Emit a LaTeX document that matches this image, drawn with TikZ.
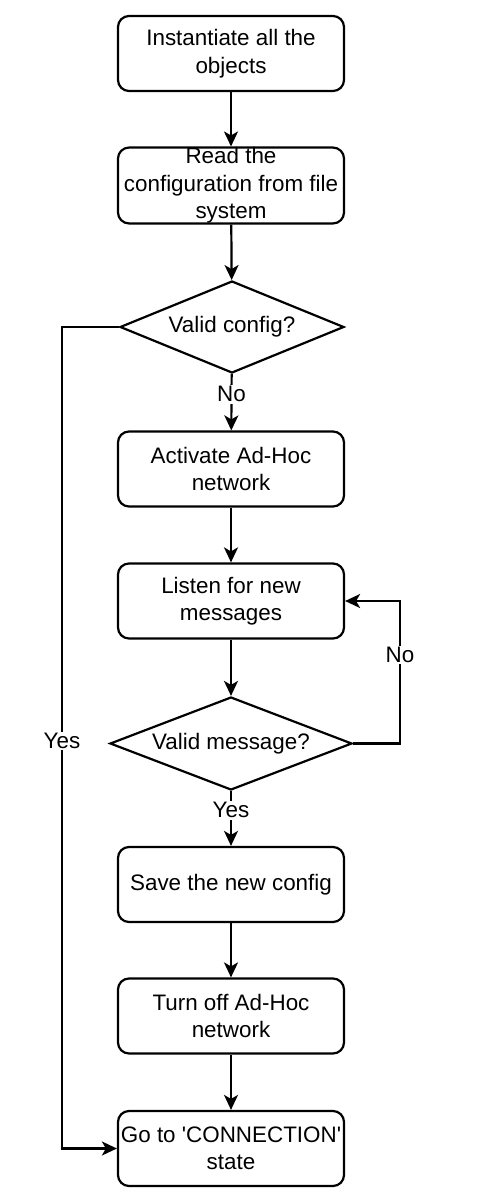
\documentclass[tikz,border=0pt]{standalone}
\usepackage{fontspec}
\setmainfont{Liberation Sans}
\usetikzlibrary{shapes.geometric,arrows.meta}
\begin{document}
\begin{tikzpicture}[x=1pt,y=-1pt,
  line width=2.2pt,
  every node/.style={font=\fontsize{22.4}{27.5}\selectfont, align=center},
  procbox/.style={draw, rounded corners=11pt, minimum width=226pt, minimum height=75pt, inner sep=0pt},
  decbox/.style={draw, diamond, aspect=2.4, inner sep=0pt},
  arr/.style={-{Stealth[length=15pt,width=14pt,inset=4pt]}},
  lbl/.style={fill=white, inner sep=1.5pt}]
\useasboundingbox (0,0) rectangle (494,1200);
\node[procbox] (b1) at (231,53.5) {Instantiate all the\\objects};
\node[procbox] (b2) at (231,185.5) {Read the\\configuration from file\\system};
\node[decbox, minimum width=224pt, minimum height=92pt] (d1) at (232,327) {Valid config?};
\node[procbox] (b3) at (231,469) {Activate Ad-Hoc\\network};
\node[procbox] (b4) at (231,601) {Listen for new\\messages};
\node[decbox, minimum width=242pt, minimum height=93pt] (d2) at (231,743.5) {Valid message?};
\node[procbox] (b5) at (231,884.5) {Save the new config};
\node[procbox] (b6) at (231,1016) {Turn off Ad-Hoc\\network};
\node[procbox] (b7) at (231,1148.5) {Go to \textquotesingle CONNECTION\textquotesingle\\state};
\coordinate (cl) at (62,327);
\coordinate (cr) at (400,601);
\draw[arr] (b1) -- (b2);
\draw[arr] (b2) -- (d1);
\draw[arr] (d1) -- node[lbl, pos=0.36] {No} (b3);
\draw[arr] (b3) -- (b4);
\draw[arr] (b4) -- (d2);
\draw[arr] (d2) -- node[lbl, pos=0.35] {Yes} (b5);
\draw[arr] (b5) -- (b6);
\draw[arr] (b6) -- (b7);
\draw[arr] (d1.west) -- (cl) |- node[lbl, pos=0.252] {Yes} (b7.west);
\draw[arr] (d2.east) -| node[lbl, pos=0.81] {No} (cr) -- (b4.east);
\end{tikzpicture}
\end{document}
